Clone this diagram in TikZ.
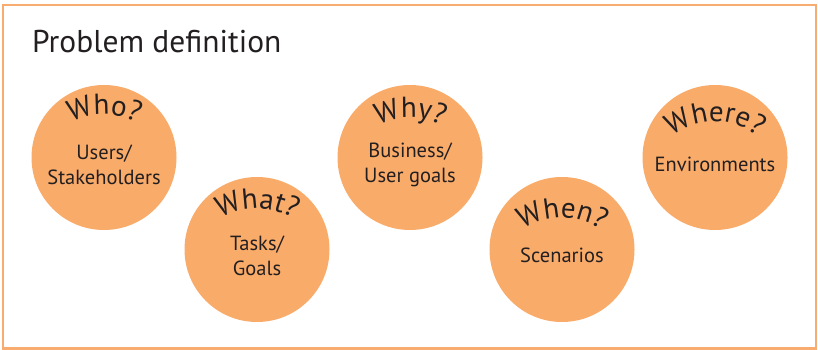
\documentclass[tikz,border=0pt]{standalone}
\usepackage{fontspec}
\setmainfont{PT Sans}
\usepackage{xcolor}
\usepackage{tikz}
\usetikzlibrary{decorations.text}

\definecolor{ringorange}{RGB}{248,172,112}
\definecolor{blobfill}{RGB}{249,171,106}
\definecolor{inkdark}{RGB}{35,31,32}
\newcommand{\qfont}{\fontsize{29}{29}\selectfont\color{inkdark}}

\begin{document}
\begin{tikzpicture}[x=1pt, y=1pt,
    blob/.style={circle, fill=blobfill, minimum size=145pt, inner sep=0pt},
    answer/.style={text=inkdark, font=\fontsize{20.5}{25}\selectfont, align=center},
    qlabel/.style={decorate, decoration={text along path, text align=center, text={|\qfont|#1}}}]

    \useasboundingbox (0,0) rectangle (818,350);

    % Frame and title
    \draw [ringorange, line width=2.5pt] (3,1.5) rectangle (816,345);
    \node [anchor=base west, inner sep=0pt, text=inkdark, font=\fontsize{31.5}{31.5}\selectfont] (title) at (32,297) {Problem definition};

    % Circles
    \node [blob] (who)   at (104,192.5) {};
    \node [blob] (what)  at (257,100.5) {};
    \node [blob] (why)   at (410,192.5) {};
    \node [blob] (when)  at (562,100.5) {};
    \node [blob] (where) at (715,192.5) {};

    % Answers
    \node [answer] (whotxt)   at ([yshift=-7pt]who.center)   {Users/\\Stakeholders};
    \node [answer] (whattxt)  at ([yshift=-6pt]what.center)  {Tasks/\\Goals};
    \node [answer] (whytxt)   at ([yshift=-7pt]why.center)   {Business/\\User goals};
    \node [answer] (whentxt)  at ([yshift=-6pt]when.center)  {Scenarios};
    \node [answer] (wheretxt) at ([yshift=-7pt]where.center) {Environments};

    % Curved questions
    \path [qlabel={Who?}]   (who.center)   ++(0,-27) ++(160:70pt) arc [start angle=160, end angle=20, radius=70pt];
    \path [qlabel={What?}]  (what.center)  ++(0,-29) ++(160:70pt) arc [start angle=160, end angle=20, radius=70pt];
    \path [qlabel={Why?}]   (why.center)   ++(0,-30) ++(160:70pt) arc [start angle=160, end angle=20, radius=70pt];
    \path [qlabel={When?}]  (when.center)  ++(0,-38) ++(160:70pt) arc [start angle=160, end angle=20, radius=70pt];
    \path [qlabel={Where?}] (where.center) ++(0,-34) ++(160:70pt) arc [start angle=160, end angle=20, radius=70pt];

\end{tikzpicture}
\end{document}
